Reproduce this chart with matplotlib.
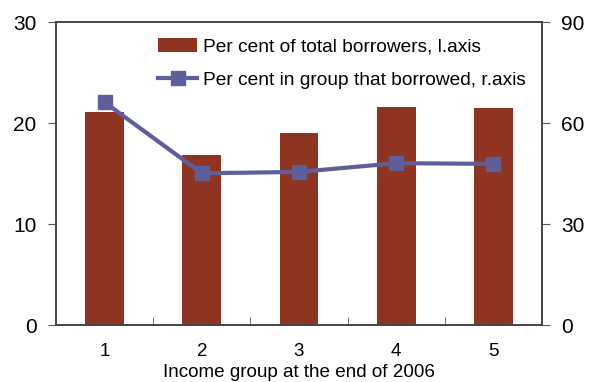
import matplotlib.pyplot as plt
import numpy as np

# income groups and the two series
groups = ['1', '2', '3', '4', '5']
share_of_borrowers = [21.1, 16.8, 19.0, 21.6, 21.5]
share_borrowed = [66.2, 45.1, 45.5, 48.1, 47.9]

bar_color = '#8E3420'
line_color = '#5E5E9A'

plt.rcParams['font.family'] = ['Liberation Sans', 'DejaVu Sans']

fig = plt.figure(figsize=(5.92, 3.82), dpi=100)
ax = fig.add_axes([0.0946, 0.149, 0.821, 0.793])
x = np.arange(1, len(groups) + 1)

bars = ax.bar(x, share_of_borrowers, width=0.4, color=bar_color,
              label='Per cent of total borrowers, l.axis')
ax.set_xlim(0.5, 5.5)
ax.set_ylim(0, 30)
ax.set_yticks([0, 10, 20, 30])
ax.set_xticks(x)
ax.set_xticklabels(groups)
ax.set_xticks(np.arange(1.5, 5.5, 1), minor=True)
ax.tick_params(axis='x', which='major', length=0, pad=13, labelsize=13.5)
ax.tick_params(axis='x', which='minor', direction='in', length=6, color='#555555')
ax.tick_params(axis='y', direction='out', length=6, pad=8, labelsize=15, color='#555555')
ax.set_xlabel('Income group at the end of 2006', fontsize=13.6, labelpad=3)

ax2 = ax.twinx()
line, = ax2.plot(x, share_borrowed, color=line_color, lw=3, marker='s',
                 markersize=10, label='Per cent in group that borrowed, r.axis')
ax2.set_ylim(0, 90)
ax2.set_yticks([0, 30, 60, 90])
ax2.tick_params(axis='y', direction='out', length=6, pad=8, labelsize=15, color='#555555')

for a in (ax, ax2):
    for s in a.spines.values():
        s.set_color('#444444')
        s.set_linewidth(1.2)

fig.legend([bars, line], [bars.get_label(), line.get_label()],
           loc='upper left', bbox_to_anchor=(0.267, 0.90), frameon=False,
           fontsize=13.8, handlelength=2.05, handleheight=0.75, handletextpad=0.3,
           labelspacing=0.78, borderpad=0, borderaxespad=0)

fig.savefig('out.png', dpi=100)
